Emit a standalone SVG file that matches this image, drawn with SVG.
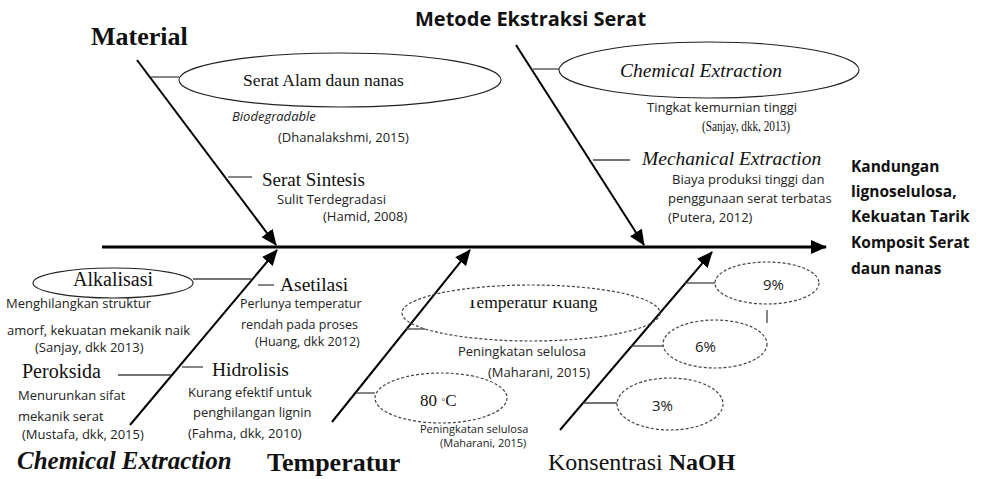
<svg xmlns="http://www.w3.org/2000/svg" width="982" height="479" viewBox="0 0 982 479">
<style>
.serif{font-family:"Liberation Serif","Times New Roman",serif;fill:#111}
.sans{font-family:"Open Sans","Liberation Sans",sans-serif;fill:#222}
.s13{font-size:13px}
.s125{font-size:12.5px}
.s12{font-size:11px}
.s15{font-size:15px}
.bsans{font-family:"Open Sans","Liberation Sans",sans-serif;font-weight:bold;fill:#111}
.bone{stroke:#000;stroke-width:2;fill:none}
.spine{stroke:#000;stroke-width:3;fill:none}
.tick{stroke:#444;stroke-width:1.3;fill:none}
.ell{fill:none;stroke:#222;stroke-width:1.1}
.dash{fill:none;stroke:#444;stroke-width:1.2;stroke-dasharray:3 2}
</style>
<defs>
<marker id="ah" markerUnits="userSpaceOnUse" markerWidth="16" markerHeight="14" refX="15" refY="7" orient="auto">
<path d="M0,0 L16,7 L0,14 z" fill="#000"/>
</marker>
<clipPath id="clipTR"><rect x="440" y="300" width="200" height="20"/></clipPath>
</defs>
<rect width="982" height="479" fill="#fff"/>

<g id="connectors">
<line class="spine" x1="102" y1="247" x2="826" y2="247" marker-end="url(#ah)"/>
<line class="bone" x1="137" y1="60" x2="276" y2="245" marker-end="url(#ah)"/>
<line class="bone" x1="516" y1="45" x2="644" y2="245" marker-end="url(#ah)"/>
<line class="bone" x1="130" y1="425" x2="277" y2="250" marker-end="url(#ah)"/>
<line class="bone" x1="332" y1="422" x2="470" y2="250" marker-end="url(#ah)"/>
<line class="bone" x1="560" y1="430" x2="712" y2="252" marker-end="url(#ah)"/>
<line class="tick" x1="151" y1="77" x2="179" y2="77"/>
<line class="tick" x1="228" y1="177" x2="252" y2="177"/>
<line class="tick" x1="533" y1="69" x2="559" y2="69"/>
<line class="tick" x1="593" y1="160" x2="630" y2="160"/>
<line class="tick" x1="193" y1="279" x2="251" y2="279"/>
<line class="tick" x1="258" y1="285" x2="274" y2="285"/>
<line class="tick" x1="118" y1="375" x2="171" y2="375"/>
<line class="tick" x1="182" y1="367" x2="203" y2="367"/>
<line class="tick" x1="406" y1="329" x2="425" y2="329"/>
<line class="tick" x1="356" y1="393" x2="375" y2="393"/>
<line class="tick" x1="583" y1="403" x2="617" y2="403"/>
<line class="tick" x1="631" y1="346" x2="663" y2="346"/>
<line class="tick" x1="685" y1="283" x2="715" y2="283"/>
<line class="tick" x1="767" y1="310" x2="767" y2="323"/>
</g>

<g id="material">
<text class="serif" x="91" y="45" font-size="26" font-weight="bold">Material</text>
</g>
<g id="serat-alam">
<ellipse class="ell" cx="340" cy="80" rx="161" ry="27"/>
<text class="serif" x="243" y="86" font-size="17.5">Serat Alam daun nanas</text>
<text class="sans s13" x="232" y="121" font-style="italic">Biodegradable</text>
<text class="sans s13" x="278" y="142">(Dhanalakshmi, 2015)</text>
</g>
<g id="serat-sintesis">
<text class="serif" x="262" y="186" font-size="19">Serat Sintesis</text>
<text class="sans s13" x="277" y="204">Sulit Terdegradasi</text>
<text class="sans s13" x="323" y="221">(Hamid, 2008)</text>
</g>

<g id="metode">
<text class="bsans" x="415" y="26" font-size="20">Metode Ekstraksi Serat</text>
</g>
<g id="chemical-top">
<ellipse class="ell" cx="709" cy="70" rx="150" ry="28"/>
<text class="serif" x="620" y="77" font-size="19.5" font-style="italic">Chemical Extraction</text>
<text class="sans s13" x="647" y="112">Tingkat kemurnian tinggi</text>
<text class="serif" x="702" y="131" font-size="14" textLength="88" lengthAdjust="spacingAndGlyphs">(Sanjay, dkk, 2013)</text>
</g>
<g id="mechanical">
<text class="serif" x="642" y="165" font-size="19.5" font-style="italic">Mechanical Extraction</text>
<text class="sans s13" x="672" y="184">Biaya produksi tinggi dan</text>
<text class="sans s13" x="668" y="203">penggunaan serat terbatas</text>
<text class="sans s13" x="668" y="222">(Putera, 2012)</text>
</g>

<g id="effect">
<text class="bsans" font-size="15.5">
<tspan x="851" y="172">Kandungan</tspan>
<tspan x="851" y="197">lignoselulosa,</tspan>
<tspan x="851" y="222">Kekuatan Tarik</tspan>
<tspan x="851" y="248">Komposit Serat</tspan>
<tspan x="851" y="274">daun nanas</tspan>
</text>
</g>

<g id="alkalisasi">
<ellipse class="ell" cx="113" cy="283" rx="80" ry="15"/>
<text class="serif" x="73" y="286" font-size="20">Alkalisasi</text>
<text class="sans s13" x="6" y="308">Menghilangkan struktur</text>
<text class="sans s13" x="7" y="335">amorf, kekuatan mekanik naik</text>
<text class="sans s13" x="35" y="352">(Sanjay, dkk 2013)</text>
</g>
<g id="asetilasi">
<text class="serif" x="280" y="291" font-size="19.5">Asetilasi</text>
<text class="sans s125" x="240" y="308">Perlunya temperatur</text>
<text class="sans s125" x="241" y="329">rendah pada proses</text>
<text class="sans s125" x="255" y="346">(Huang, dkk 2012)</text>
</g>
<g id="peroksida">
<text class="serif" x="22" y="378" font-size="20">Peroksida</text>
<text class="sans s13" x="18" y="400">Menurunkan sifat</text>
<text class="sans s13" x="18" y="421">mekanik serat</text>
<text class="sans s13" x="22" y="439">(Mustafa, dkk, 2015)</text>
</g>
<g id="hidrolisis">
<text class="serif" x="212" y="376" font-size="19.5">Hidrolisis</text>
<text class="sans s13" x="188" y="397">Kurang efektif untuk</text>
<text class="sans s13" x="193" y="417">penghilangan lignin</text>
<text class="sans s13" x="188" y="438">(Fahma, dkk, 2010)</text>
</g>
<g id="chemical-bottom">
<text class="serif" x="17" y="469" font-size="25" font-weight="bold" font-style="italic">Chemical Extraction</text>
</g>

<g id="temperatur">
<text class="serif" x="267" y="471" font-size="26" font-weight="bold">Temperatur</text>
</g>
<g id="temperatur-ruang">
<ellipse class="dash" cx="531" cy="313" rx="129" ry="28"/>
<text class="serif" x="467" y="308" font-size="17.5" clip-path="url(#clipTR)">Temperatur Ruang</text>
<text class="sans s13" x="458" y="356">Peningkatan selulosa</text>
<text class="sans s13" x="488" y="377">(Maharani, 2015)</text>
</g>
<g id="t80">
<ellipse class="dash" cx="441" cy="398" rx="66" ry="25"/>
<text class="serif" x="420" y="406" font-size="17">80 <tspan font-size="11" dy="-3">◦</tspan><tspan dy="3">C</tspan></text>
<text class="sans s12" x="420" y="433">Peningkatan selulosa</text>
<text class="sans s12" x="440" y="447">(Maharani, 2015)</text>
</g>

<g id="naoh">
<text class="serif" x="548" y="470" font-size="24">Konsentrasi <tspan font-weight="bold">NaOH</tspan></text>
</g>
<g id="p9">
<ellipse class="dash" cx="767" cy="283" rx="52" ry="21"/>
<text class="sans s15" x="763" y="290">9%</text>
</g>
<g id="p6">
<ellipse class="dash" cx="715" cy="344" rx="52" ry="24"/>
<text class="sans s15" x="695" y="352">6%</text>
</g>
<g id="p3">
<ellipse class="dash" cx="670" cy="404" rx="53" ry="26"/>
<text class="sans s15" x="652" y="411">3%</text>
</g>
</svg>
